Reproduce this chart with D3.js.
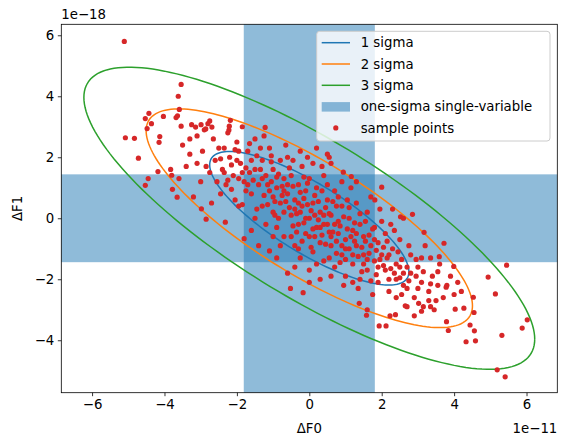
<!DOCTYPE html>
<html><head><meta charset="utf-8">
<script src="https://cdn.jsdelivr.net/npm/d3@7"></script>
<style>body{margin:0;background:#fff}text{font-family:"DejaVu Sans",sans-serif}</style>
</head><body><svg id="c" width="566" height="447"></svg>
<script>
// values in units of 1e-11 (ΔF0) and 1e-18 (ΔF1)
const sigmaF0 = 1.81, sigmaF1 = 1.44, rho = -0.8;
const levelNames = ["1 sigma","2 sigma","3 sigma"];
const levelRadii = [1.52, 2.49, 3.44];   // sqrt chi2 (2 dof) quantiles
const levelColors = ["#1f77b4","#ff7f0e","#2ca02c"];
const xTicks = [-6,-4,-2,0,2,4,6];
const yTicks = [-4,-2,0,2,4,6];
const samplePts = [
[-5.11,5.80],[-3.54,4.39],[-3.62,4.0],[-3.59,3.57],[-3.68,3.30],[-3.64,3.36],[-4.43,3.44],[-4.53,3.27],[-4.36,3.10],[-4.48,2.94],
[-4.03,3.34],[-5.08,2.64],[-4.83,2.62],[-4.13,2.68],[-4.15,2.49],[-4.72,1.97],[-4.18,1.53],[-4.45,1.30],[-4.53,1.08],[-3.83,1.60],
[-3.80,1.41],[-3.78,0.95],[-3.65,0.69],[-3.54,3.02],[-3.25,3.07],[-3.14,2.99],[-2.99,3.07],[-2.86,2.93],[-2.75,3.19],[-2.69,2.99],
[-2.18,3.21],[-2.21,3.02],[-2.22,2.89],[-2.98,0.31],[-2.85,-0.03],[-1.22,2.98],
[4.94,-1.93],[5.45,-1.54],[5.14,-2.48],[6.02,-3.33],[5.88,-3.60],[5.32,-3.84],[5.19,-4.97],[5.41,-5.20],[4.59,-4.02],[4.33,-4.05],
[4.56,-3.69],[4.44,-3.50],[4.03,-2.98],[4.27,-2.95],[4.55,-3.09],[4.53,-2.59],[3.99,-1.58],[3.72,-0.82],[3.59,-1.26],[3.78,-2.26],
[3.79,-3.39],[3.84,-3.68],[3.17,-0.46],[2.85,0.13],[2.52,0.05],[2.0,1.02],[1.81,0.60],[1.16,1.37],[0.94,1.51],[0.55,2.0],
[1.93,-3.53],[2.12,-3.53],[1.58,-3.18],[1.38,-2.79],[-0.17,-2.44],[-0.52,-2.30],[-1.10,-1.07],[-1.80,-0.67],[-1.95,0.40],[-2.32,-0.13],
[2.23,-3.20],[2.38,-3.16],[2.65,-2.87],[3.02,-2.79],[3.35,-2.90],[3.10,-3.05],[2.60,-2.2],[2.50,-1.95],
[-2.6,1.9],[-2.4,1.6],[-2.5,2.3],[-2.2,2.0],[-2.1,1.4],[-2.3,1.1],[-2.0,2.5],[-1.9,1.8],[-1.8,1.2],[-1.7,2.2],
[-1.6,0.8],[-1.5,1.6],[-1.5,2.6],[-1.4,1.1],[-1.3,0.4],[-1.3,1.9],[-1.2,1.4],[-1.1,0.9],[-1.1,2.3],[-1.0,0.2],
[-1.0,1.6],[-0.9,1.0],[-0.9,-0.3],[-0.8,1.9],[-0.8,0.5],[-0.7,1.3],[-0.7,-0.6],[-0.6,0.8],[-0.6,2.0],[-0.5,0.1],
[-0.5,1.4],[-0.4,-0.9],[-0.4,0.6],[-0.3,1.1],[-0.3,-0.2],[-0.2,0.4],[-0.2,1.7],[-0.1,-0.5],[-0.1,0.9],[0.0,0.0],
[0.0,1.3],[0.1,-1.1],[0.1,0.5],[0.2,-0.3],[0.2,1.0],[0.3,-0.8],[0.3,0.2],[0.4,1.4],[0.4,-1.4],[0.5,-0.2],
[0.5,0.6],[0.6,-0.9],[0.6,0.1],[0.7,-1.6],[0.7,0.9],[0.8,-0.5],[0.8,-0.1],[0.9,-1.2],[0.9,0.4],[1.0,-0.7],
[1.0,-1.9],[1.1,0.0],[1.1,-1.0],[1.2,-0.4],[1.2,-1.5],[1.3,0.5],[1.3,-0.9],[1.4,-2.0],[1.4,-0.2],[1.5,-1.2],
[1.5,-0.6],[1.6,-1.7],[1.6,0.2],[1.7,-0.9],[1.8,-1.4],[1.8,-0.3],[1.9,-2.1],[1.9,-0.8],[2.0,-1.2],[2.1,-0.5],
[2.1,-1.7],[2.2,-2.4],[2.3,-1.0],[2.4,-1.5],[2.4,-2.0],[2.5,-0.7],[2.6,-1.8],[2.7,-2.3],[2.8,-1.2],[2.9,-2.6],
[3.0,-1.6],[3.1,-2.1],[3.2,-0.9],[3.3,-2.4],[3.4,-1.9],[3.5,-2.7],[3.6,-1.5],[3.8,-2.2],[4.0,-2.5],[4.2,-2.4],
[-2.75,1.5],[-2.45,0.8],[-2.25,2.8],[-2.05,0.6],[-1.85,3.0],[-1.65,1.5],[-1.45,0.3],[-1.25,2.7],[-1.05,1.2],[-0.85,0.0],
[-0.65,2.4],[-0.45,1.9],[-0.25,-1.3],[-0.05,2.0],[0.15,-0.6],[0.35,1.7],[0.55,-1.3],[0.75,0.4],[0.95,-2.2],[1.15,1.0],
[1.35,-2.3],[1.55,-0.1],[1.75,-2.5],[1.95,0.3],[2.15,-1.3],[2.35,-0.4],[2.55,-2.5],[2.75,-0.9],[2.95,-1.9],[3.15,-2.9],
[3.35,-1.3],[3.55,-2.2],[-3.1,2.7],[-3.3,2.1],[-3.0,1.2],[-3.4,1.7],[-2.9,2.9],[-3.2,0.7],[-2.7,0.5],[-2.8,3.1],
[-1.6,-0.4],[-1.4,-0.9],[-1.2,-0.2],[-0.9,-1.3],[-0.6,-1.8],[0.2,2.3],[0.6,1.8],[0.9,1.2],[1.3,1.2],[1.7,0.7],
[2.3,0.3],[2.6,0.0],[0.3,-2.0],[0.0,-1.7],[-0.3,-1.0],
[-0.55,0.35],[-0.35,0.15],[-0.15,0.65],[0.05,0.25],[0.25,-0.05],[0.45,0.35],[0.65,-0.45],[0.85,-0.25],[1.05,-0.35],[1.25,-0.75],
[-0.75,0.75],[-0.95,0.55],[-1.15,1.1],[-0.25,0.85],[0.35,-0.55],[0.75,-0.75],[1.45,-0.95],[1.65,-1.15],[-1.35,1.6],[-0.45,-0.25],
[0.15,0.75],[0.55,0.15],[1.0,-1.35],[-1.75,0.9],[-1.95,1.3],[2.05,-0.95],[2.25,-1.65],[2.45,-1.1],[1.85,-1.85],[-0.15,-0.15],
[0.1,-0.35],[-0.05,0.45],[-0.7,0.2],[-0.3,0.5],[0.4,-0.2],[0.9,-0.9],[1.2,-1.2],[-1.0,0.7],[-1.3,1.3],[0.0,-0.6],
[0.6,-0.6],[-0.6,1.1],[1.5,-1.5],[1.9,-1.6],[-2.0,1.9],[-1.6,1.9],[-2.35,1.5],[2.7,-1.6],[3.0,-2.3],[2.2,-2.0],
[-3.5,2.4],[-3.6,1.3],[-3.3,2.6],[-3.1,1.8],[-2.95,2.2],[-2.65,2.6],[-2.55,1.2],[-2.85,1.7],[-2.35,2.3],[-2.15,1.75],
[-1.95,2.2],[-1.75,1.65],[-1.55,1.25],[-1.45,2.05],[-1.25,0.75],[-1.05,1.85],[-0.85,1.45],[-0.65,0.55],[-0.45,1.05],[-0.25,0.2],
[-0.05,1.15],[0.15,0.1],[0.35,0.9],[0.55,-0.45],[0.75,-1.15],[0.95,0.05],[1.15,-0.6],[1.35,-1.25],[1.55,-0.75],[1.75,-0.35],
[1.95,-1.35],[2.15,-0.75],[2.35,-1.8],[2.55,-1.35],[2.75,-2.05],[2.95,-1.35],[3.15,-1.75],[3.35,-2.15],[3.55,-1.75],[3.7,-2.6],
[-1.15,0.45],[-0.95,0.1],[-0.75,1.05],[-0.55,1.65],[-0.35,-0.45],[-0.15,1.35],[0.05,-0.95],[0.25,0.55],[0.45,-0.85],[0.65,0.55],
[0.85,-1.45],[1.05,0.6],[1.25,-0.15],[1.45,-1.75],[1.65,-0.55],[1.85,-1.05],[2.05,-1.55],[2.25,-0.2],[-1.85,0.45],[-2.15,0.95],
[-0.8,-0.9],[-0.5,-0.6],[-0.2,-0.75],[0.5,1.1],[0.8,0.7],[1.1,0.35],[1.4,0.15],[0.2,-1.5],[-1.5,0.0],[-1.7,1.1],
[-0.9,1.35],[-0.4,0.3],[0.3,-0.3],[0.7,-0.2],[1.0,-1.0],[1.3,-0.5],[1.6,-1.35],[-0.1,0.0],[-0.7,0.9],[0.4,0.1],
[1.8,-0.7],[2.0,-0.1],[2.2,-1.2],[2.5,-1.6],[2.8,-1.8],[3.1,-1.3],[3.3,-2.7],[3.9,-1.9],[4.1,-2.1],[3.45,-3.0],
[-2.45,1.95],[-2.25,1.25],[-2.05,2.25],[-1.85,1.5],[-1.65,2.45],[-1.35,2.3],[-1.05,2.05],[-0.25,2.2],[0.5,2.1],[0.1,1.8],
[2.7,-2.9],[2.4,-2.6],[1.7,-2.05],[1.2,-2.1],[0.6,-1.9],[0.0,-2.1],[-0.4,-1.6],[-1.0,-0.6],[1.6,-3.0],[2.9,-3.2]
];
const W=566,H=447,m={l:61.3,r:557.3,t:24.3,b:392.7};
const svg=d3.select("#c");
const x=d3.scaleLinear().domain([-6.85,6.85]).range([m.l,m.r]);
const y=d3.scaleLinear().domain([-5.72,6.36]).range([m.b,m.t]);
const g=svg.append("g");
const band="rgba(31,119,180,0.5)";
g.append("rect").attr("x",x(-sigmaF0)).attr("y",m.t).attr("width",x(sigmaF0)-x(-sigmaF0)).attr("height",m.b-m.t).attr("fill",band);
g.append("rect").attr("x",m.l).attr("y",y(sigmaF1)).attr("width",m.r-m.l).attr("height",y(-sigmaF1)-y(sigmaF1)).attr("fill",band);
const ts=d3.range(0,361,2).map(d=>d*Math.PI/180);
levelRadii.forEach((k,i)=>{
  const pts=ts.map(t=>[k*sigmaF0*Math.cos(t), k*sigmaF1*(rho*Math.cos(t)+Math.sqrt(1-rho*rho)*Math.sin(t))]);
  g.append("path").attr("d",d3.line().x(d=>x(d[0])).y(d=>y(d[1]))(pts)).attr("fill","none").attr("stroke",levelColors[i]).attr("stroke-width",1.5);
});
g.selectAll("circle.p").data(samplePts).join("circle").attr("cx",d=>x(d[0])).attr("cy",d=>y(d[1])).attr("r",2.6).attr("fill","#d62728");
svg.append("rect").attr("x",m.l).attr("y",m.t).attr("width",m.r-m.l).attr("height",m.b-m.t).attr("fill","none").attr("stroke","#000").attr("stroke-width",0.8);
const xa=svg.append("g").attr("transform",`translate(0,${m.b})`).call(d3.axisBottom(x).tickValues(xTicks).tickSize(3.5).tickPadding(3.5).tickFormat(d=>d<0?"−"+(-d):d));
const ya=svg.append("g").attr("transform",`translate(${m.l},0)`).call(d3.axisLeft(y).tickValues(yTicks).tickSize(3.5).tickPadding(3.5).tickFormat(d=>d<0?"−"+(-d):d));
[xa,ya].forEach(a=>{a.select(".domain").remove();a.selectAll("text").attr("font-size",13.3).attr("font-family","DejaVu Sans").attr("fill","#000");a.selectAll("line").attr("stroke","#000").attr("stroke-width",0.8);});
svg.append("text").attr("x",(m.l+m.r)/2).attr("y",433).attr("text-anchor","middle").attr("font-size",13.3).text("ΔF0");
svg.append("text").attr("transform",`translate(22,${(m.t+m.b)/2}) rotate(-90)`).attr("text-anchor","middle").attr("font-size",13.3).text("ΔF1");
svg.append("text").attr("x",m.r).attr("y",433).attr("text-anchor","end").attr("font-size",13.3).text("1e−11");
svg.append("text").attr("x",m.l).attr("y",19).attr("text-anchor","start").attr("font-size",13.3).text("1e−18");
// legend
const lg=svg.append("g");
lg.append("rect").attr("x",316.7).attr("y",31.3).attr("width",233.3).attr("height",109.7).attr("rx",3).attr("fill","rgba(255,255,255,0.8)").attr("stroke","#ccc");
const labels=[...levelNames,"one-sigma single-variable","sample points"];
labels.forEach((l,i)=>{
  const yy=42.7+i*21.3;
  if(i<3) lg.append("line").attr("x1",321.7).attr("x2",350).attr("y1",yy).attr("y2",yy).attr("stroke",levelColors[i]).attr("stroke-width",1.5);
  else if(i===3) lg.append("rect").attr("x",321.7).attr("y",yy-4.5).attr("width",28.3).attr("height",9.5).attr("fill",band);
  else lg.append("circle").attr("cx",335.8).attr("cy",yy).attr("r",2.6).attr("fill","#d62728");
  lg.append("text").attr("x",360.7).attr("y",yy+4.7).attr("font-size",13.3).text(l);
});
</script></body></html>
